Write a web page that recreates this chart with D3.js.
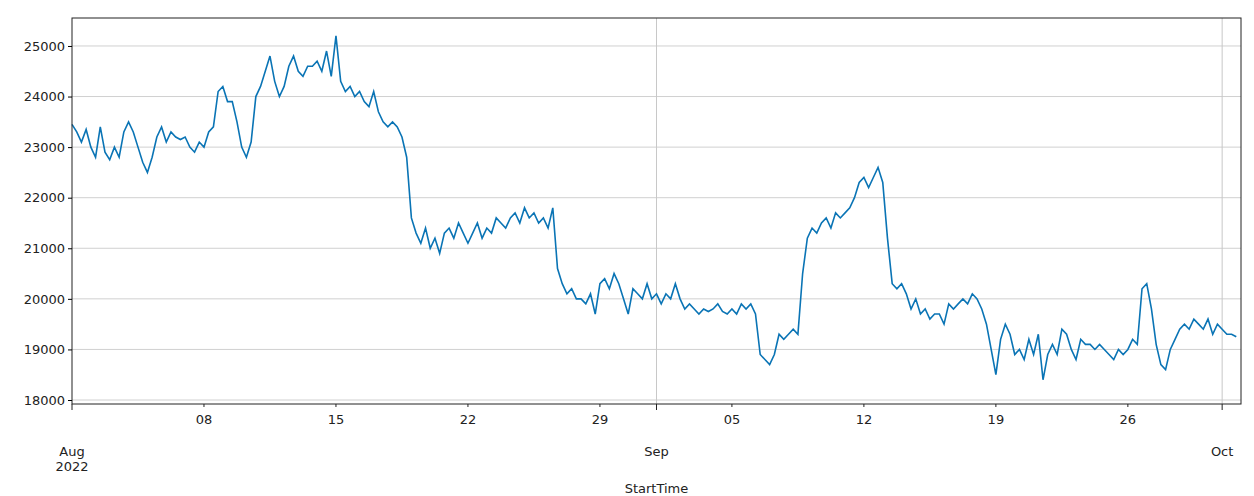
<!DOCTYPE html><html><head><meta charset="utf-8">
<script src="https://cdn.jsdelivr.net/npm/d3@7/dist/d3.min.js"></script>
<style>body{margin:0;background:#fff}text{font-family:"DejaVu Sans",sans-serif}</style></head><body>
<svg id="c" width="1254" height="496"></svg>
<script>
const startDate = "2022-08-01";
const endDate = "2022-10-02";
const stepHours = 6;
const prices = [
23450,23300,23100,23350, 23000,22800,23400,22900, 22750,23000,22800,23300, 23500,23300,23000,22700,
22500,22800,23200,23400, 23100,23300,23200,23150, 23200,23000,22900,23100, 23000,23300,23400,24100,
24200,23900,23900,23500, 23000,22800,23100,24000, 24200,24500,24800,24300, 24000,24200,24600,24800,
24500,24400,24600,24600, 24700,24500,24900,24400, 25200,24300,24100,24200, 24000,24100,23900,23800,
24100,23700,23500,23400, 23500,23400,23200,22800, 21600,21300,21100,21400, 21000,21200,20900,21300,
21400,21200,21500,21300, 21100,21300,21500,21200, 21400,21300,21600,21500, 21400,21600,21700,21500,
21800,21600,21700,21500, 21600,21400,21800,20600, 20300,20100,20200,20000, 20000,19900,20100,19700,
20300,20400,20200,20500, 20300,20000,19700,20200, 20100,20000,20300,20000, 20100,19900,20100,20000,
20300,20000,19800,19900, 19800,19700,19800,19750, 19800,19900,19750,19700, 19800,19700,19900,19800,
19900,19700,18900,18800, 18700,18900,19300,19200, 19300,19400,19300,20500, 21200,21400,21300,21500,
21600,21400,21700,21600, 21700,21800,22000,22300, 22400,22200,22400,22600, 22300,21200,20300,20200,
20300,20100,19800,20000, 19700,19800,19600,19700, 19700,19500,19900,19800, 19900,20000,19900,20100,
20000,19800,19500,19000, 18500,19200,19500,19300, 18900,19000,18800,19200, 18900,19300,18400,18900,
19100,18900,19400,19300, 19000,18800,19200,19100, 19100,19000,19100,19000, 18900,18800,19000,18900,
19000,19200,19100,20200, 20300,19800,19100,18700, 18600,19000,19200,19400, 19500,19400,19600,19500,
19400,19600,19300,19500, 19400,19300,19300,19250];
const yTicks = [18000,19000,20000,21000,22000,23000,24000,25000];
const minorTicks = ["2022-08-08","2022-08-15","2022-08-22","2022-08-29","2022-09-05","2022-09-12","2022-09-19","2022-09-26"];
const majorTicks = [["2022-08-01","Aug","2022"],["2022-09-01","Sep",""],["2022-10-01","Oct",""]];

const P = s=>new Date(s+"T00:00:00");
const t0 = P(startDate);
const pts = prices.map((v,i)=>({t:new Date(t0.getTime()+i*stepHours*3600e3), v}));
const L=72,R=1241,T=18,B=404;
const x = d3.scaleTime().domain([t0, P(endDate)]).range([L,R]);
const y = d3.scaleLinear().domain([17921,25553]).range([B,T]);
const svg = d3.select("#c");
svg.append("g").selectAll("line").data(yTicks).join("line")
 .attr("x1",L).attr("x2",R).attr("y1",d=>y(d)).attr("y2",d=>y(d)).attr("stroke","#d0d0d0");
svg.append("g").selectAll("line").data(majorTicks.slice(1)).join("line")
 .attr("y1",T).attr("y2",B).attr("x1",d=>x(P(d[0]))).attr("x2",d=>x(P(d[0]))).attr("stroke","#c8c8c8");
svg.append("path").datum(pts).attr("fill","none").attr("stroke","#0a74b5").attr("stroke-width",1.6)
 .attr("d",d3.line().x(d=>x(d.t)).y(d=>y(d.v)));
svg.append("rect").attr("x",L).attr("y",T).attr("width",R-L).attr("height",B-T).attr("fill","none").attr("stroke","#222");
const ya = svg.append("g").attr("transform",`translate(${L},0)`).call(d3.axisLeft(y).tickValues(yTicks).tickSize(4).tickFormat(d3.format("d")));
ya.select(".domain").remove(); ya.selectAll("text").attr("font-size",13).attr("fill","#222");
const g = svg.append("g");
minorTicks.forEach(s=>{const xx=x(P(s));
 g.append("line").attr("x1",xx).attr("x2",xx).attr("y1",B).attr("y2",B+3).attr("stroke","#222");
 g.append("text").attr("x",xx).attr("y",B+20).attr("text-anchor","middle").attr("font-size",13).attr("fill","#222").text(s.slice(8));});
majorTicks.forEach(d=>{const xx=x(P(d[0]));
 g.append("line").attr("x1",xx).attr("x2",xx).attr("y1",B).attr("y2",B+6).attr("stroke","#222");
 g.append("text").attr("x",xx).attr("y",B+52).attr("text-anchor","middle").attr("font-size",13).attr("fill","#222").text(d[1]);
 if(d[2]) g.append("text").attr("x",xx).attr("y",B+67).attr("text-anchor","middle").attr("font-size",13).attr("fill","#222").text(d[2]);});
svg.append("text").attr("x",(L+R)/2).attr("y",493).attr("text-anchor","middle").attr("font-size",13).attr("fill","#222").text("StartTime");
</script></body></html>
